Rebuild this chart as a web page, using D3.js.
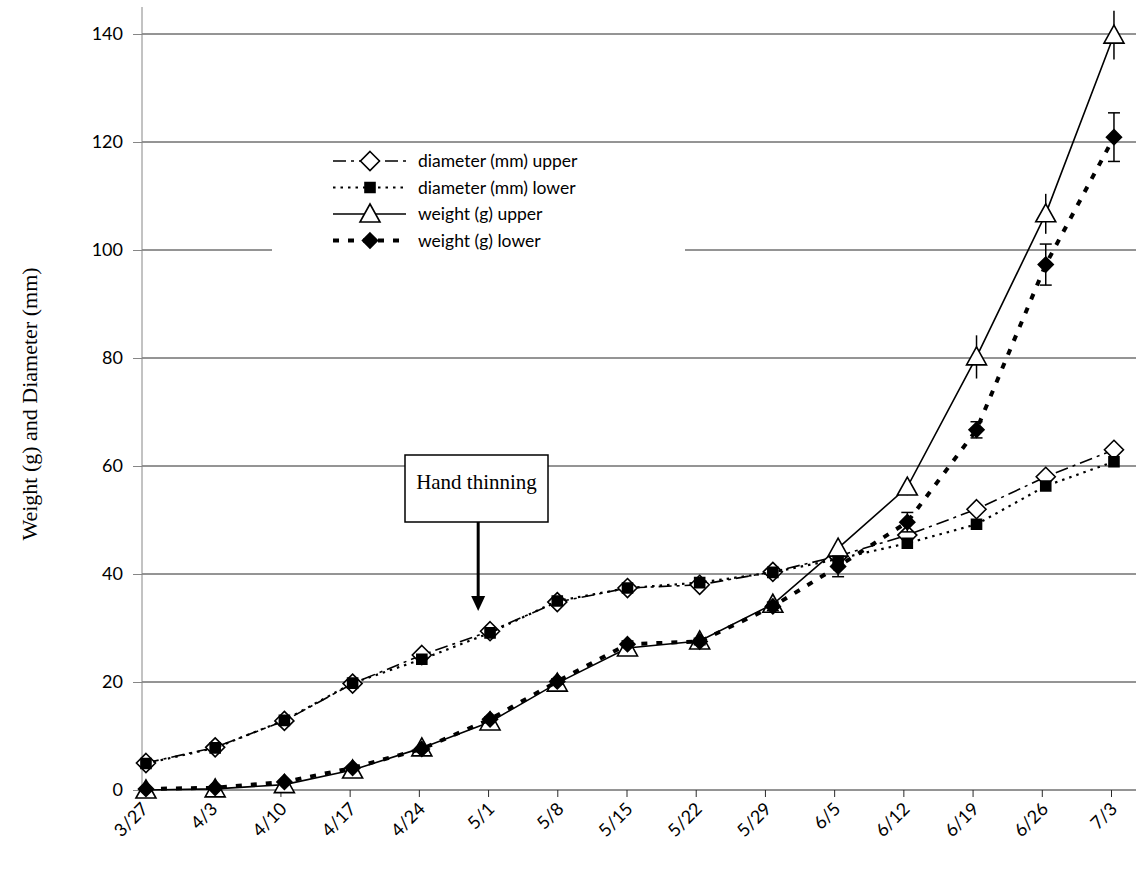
<html>
<script src='https://d3js.org/d3.v7.min.js'></script>
<style>
body {margin:0; background:#fff;}
text {font-family: Lato, 'Open Sans', sans-serif; fill:#000;}
.serif {font-family: 'Liberation Serif', 'Times New Roman', serif;}
</style>
<body>
<svg width=1136 height=870></svg>
<script>
// sampling dates (labels) and days after 3/27 where each sample sits on the date axis
var dateLabels = ['3/27','4/3','4/10','4/17','4/24','5/1','5/8','5/15','5/22','5/29','6/5','6/12','6/19','6/26','7/3'];
var sampleDays = [0.4,7.4,14.4,21.3,28.3,35.2,42.0,49.1,56.4,63.8,70.4,77.4,84.4,91.4,98.3];

var diamUpper   = [5.0,7.9,12.8,19.7,25.0,29.4,34.8,37.4,38.0,40.4,43.3,47.2,52.0,58.0,63.0];
var diamLower   = [4.9,7.8,12.9,19.8,24.2,29.1,35.0,37.4,38.4,40.3,42.8,45.7,49.2,56.3,60.8];
var weightUpper = [0.0,0.2,1.0,3.7,7.8,12.6,19.8,26.3,27.6,34.4,44.8,56.1,80.2,106.7,139.8];
var weightLower = [0.2,0.4,1.5,4.1,7.6,13.1,20.1,27.0,27.5,34.0,41.4,49.6,66.7,97.3,120.9];

var diamUpperErr   = [0.3,0.3,0.3,0.3,0.3,0.3,0.4,0.4,0.4,0.4,0.6,0.8,1.0,0.9,0.8];
var diamLowerErr   = [0.3,0.3,0.3,0.3,0.3,0.3,0.3,0.3,0.3,0.3,0.5,0.6,0.7,0.7,0.7];
var weightUpperErr = [0,0,0,0,0.3,0.4,0.5,0.6,0.6,0.8,1.0,1.5,4.0,3.7,4.5];
var weightLowerErr = [0,0,0,0.2,0.3,0.4,0.5,0.6,0.6,0.8,1.9,1.8,1.5,3.8,4.5];

var yTicks = [0,20,40,60,80,100,120,140];
var thinningDay = 34;

var svg = d3.select('svg');

var xs = d3.scaleLinear().domain([0,98]).range([142,1111]);
var ys = d3.scaleLinear().domain([0,145]).range([790,7]);

// horizontal gridlines
svg.append('g').selectAll('line').data(yTicks.slice(1)).enter().append('line')
  .attr('x1',142).attr('x2',1136)
  .attr('y1',function(d){return ys(d);}).attr('y2',function(d){return ys(d);})
  .attr('stroke','#2a2a2a').attr('stroke-width',1);

// y axis
var yAxis = d3.axisLeft(ys).tickValues(yTicks).tickSize(9).tickPadding(10);
var gy = svg.append('g').attr('transform','translate(142,0)').call(yAxis);
gy.select('.domain').attr('stroke','#868686').attr('d','M0,7V790');
gy.selectAll('.tick line').attr('stroke','#868686');
gy.selectAll('.tick text').style('font-size','18px').style('font-family','Lato, sans-serif');

// x axis (weekly ticks on a date axis)
var weekDays = dateLabels.map(function(d,i){return i*7;});
var xAxis = d3.axisBottom(xs).tickValues(weekDays).tickSize(7)
  .tickFormat(function(d,i){return dateLabels[i];});
var gx = svg.append('g').attr('transform','translate(0,790)').call(xAxis);
gx.select('.domain').attr('stroke','#2a2a2a').attr('d','M142,0H1136');
gx.selectAll('.tick line').attr('stroke','#2a2a2a');
gx.selectAll('.tick text')
  .style('font-size','18px').style('font-family','Lato, sans-serif')
  .attr('text-anchor','end').attr('dy',null).attr('y',0)
  .attr('transform','translate(7,20) rotate(-45)');

// y axis title
svg.append('text').attr('class','serif')
  .attr('transform','translate(37,404) rotate(-90)')
  .attr('text-anchor','middle').style('font-size','22px')
  .text('Weight (g) and Diameter (mm)');

// marker shapes
function markerPath(shape, cx, cy){
  if(shape=='diamond') return 'M'+cx+','+(cy-9.5)+'L'+(cx+9.5)+','+cy+'L'+cx+','+(cy+9.5)+'L'+(cx-9.5)+','+cy+'Z';
  if(shape=='fdiamond') return 'M'+cx+','+(cy-7.5)+'L'+(cx+7.5)+','+cy+'L'+cx+','+(cy+7.5)+'L'+(cx-7.5)+','+cy+'Z';
  if(shape=='square') return 'M'+(cx-5)+','+(cy-5)+'h10v10h-10Z';
  if(shape=='triangle') return 'M'+cx+','+(cy-10)+'L'+(cx+10)+','+(cy+8)+'L'+(cx-10)+','+(cy+8)+'Z';
}

var series = [
  {name:'diameter (mm) upper', vals:diamUpper, err:diamUpperErr, dash:'13,5,3,5', width:1.6, shape:'diamond', fill:'#fff', caps:4},
  {name:'diameter (mm) lower', vals:diamLower, err:diamLowerErr, dash:'2.5,5', width:2.2, shape:'square', fill:'#000', caps:4},
  {name:'weight (g) upper', vals:weightUpper, err:weightUpperErr, dash:null, width:1.6, shape:'triangle', fill:'#fff', caps:0},
  {name:'weight (g) lower', vals:weightLower, err:weightLowerErr, dash:'6,9', width:4, shape:'fdiamond', fill:'#000', caps:6}
];

var line = d3.line().x(function(d){return xs(d.x);}).y(function(d){return ys(d.y);});

series.forEach(function(s){
  var pts = s.vals.map(function(v,i){return {x:sampleDays[i], y:v, e:s.err[i]};});
  var g = svg.append('g');
  g.append('path').datum(pts).attr('d',line).attr('fill','none')
    .attr('stroke','#000').attr('stroke-width',s.width)
    .attr('stroke-dasharray',s.dash);
  // error bars
  var eb = g.selectAll('.eb').data(pts.filter(function(p){return p.e>0;})).enter().append('g');
  eb.append('line')
    .attr('x1',function(p){return xs(p.x);}).attr('x2',function(p){return xs(p.x);})
    .attr('y1',function(p){return ys(p.y+p.e);}).attr('y2',function(p){return ys(p.y-p.e);})
    .attr('stroke','#000').attr('stroke-width',1.5);
  if(s.caps>0){
    [1,-1].forEach(function(sg){
      eb.append('line')
        .attr('x1',function(p){return xs(p.x)-s.caps;}).attr('x2',function(p){return xs(p.x)+s.caps;})
        .attr('y1',function(p){return ys(p.y+sg*p.e);}).attr('y2',function(p){return ys(p.y+sg*p.e);})
        .attr('stroke','#000').attr('stroke-width',1.5);
    });
  }
  g.selectAll('.mk').data(pts).enter().append('path')
    .attr('d',function(p){return markerPath(s.shape, xs(p.x), ys(p.y));})
    .attr('fill',s.fill).attr('stroke','#000').attr('stroke-width',1.6);
});

// legend
var lg = svg.append('g');
lg.append('rect').attr('x',272).attr('y',147).attr('width',413).attr('height',118).attr('fill','#fff');
series.forEach(function(s,i){
  var y = 161 + i*26.5;
  lg.append('line').attr('x1',333).attr('x2',406).attr('y1',y).attr('y2',y)
    .attr('stroke','#000').attr('stroke-width',s.width).attr('stroke-dasharray',s.dash);
  lg.append('path').attr('d',markerPath(s.shape,370,y))
    .attr('fill',s.fill).attr('stroke','#000').attr('stroke-width',1.6);
  lg.append('text').attr('x',418).attr('y',y+6).style('font-size','17.5px').text(s.name);
});

// hand thinning annotation
var ax = xs(thinningDay);
svg.append('rect').attr('x',405).attr('y',455).attr('width',143).attr('height',67)
  .attr('fill','#fff').attr('stroke','#000').attr('stroke-width',1.5);
svg.append('text').attr('class','serif').attr('x',476.5).attr('y',489)
  .attr('text-anchor','middle').style('font-size','21px').text('Hand thinning');
svg.append('line').attr('x1',ax).attr('x2',ax).attr('y1',522).attr('y2',598)
  .attr('stroke','#000').attr('stroke-width',3);
svg.append('path').attr('d','M'+(ax-7)+',596L'+(ax+7)+',596L'+ax+',611Z').attr('fill','#000');
</script>
</body>
</html>
